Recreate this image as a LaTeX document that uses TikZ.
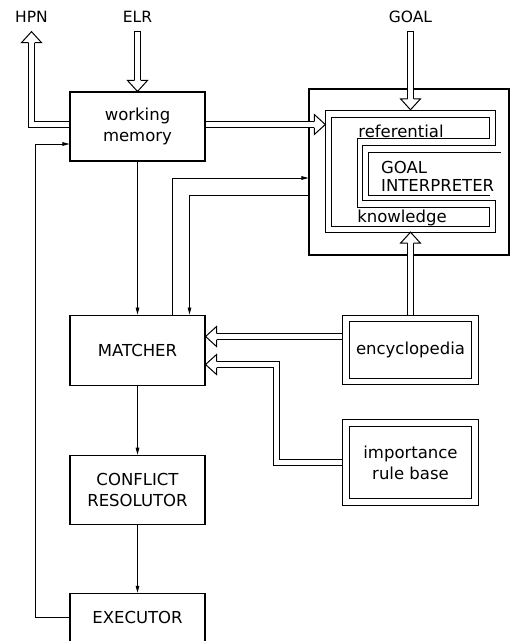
\documentclass[tikz,border=0pt]{standalone}
\usepackage{fontspec}
\setmainfont{DejaVu Sans}
\usetikzlibrary{arrows.meta, positioning, calc}

\tikzset{
    hhead/.pic={
        \fill[white] (-11,-10) -- (0,0) -- (-11,10) -- cycle;
        \draw[line width=1pt, line join=miter] (-11,-3) -- (-11,-10) -- (0,0) -- (-11,10) -- (-11,3);
    }
}

\begin{document}
\begin{tikzpicture}[
    x=1pt, y=-1pt,
    >={Triangle[length=7pt, width=3.6pt]},
    every node/.style={font=\fontsize{16.5}{21}\selectfont, inner sep=0pt},
    box/.style={rectangle, draw, line width=1.1pt, minimum width=135pt, minimum height=69pt, align=center},
    dbox/.style={rectangle, draw, line width=1.1pt, double, double distance=5.3pt, outer sep=3.75pt, minimum width=129pt, align=center},
    lbl/.style={font=\fontsize{15.5}{18}\selectfont, outer ysep=9pt},
    flow/.style={->, line width=0.8pt},
    hollow/.style={double, double distance=5pt, line width=1pt, line join=miter, shorten >=11pt},
    cshape/.style={line width=1pt, line join=miter}
]
\useasboundingbox (0,0) rectangle (511,641);

% ============================================================
% 1. PRODUCTION SYSTEM (left column)
% ============================================================
\node[lbl] (hpn)  at (31.5,17)  {HPN};
\node[lbl] (elr)  at (137.5,17) {ELR};
\node[lbl] (goal) at (410.5,17) {GOAL};

\node[box] (wm) at (137.5,126.5) {working\\memory};
\node[box, minimum height=70pt, below=153pt of wm] (matcher) {MATCHER};
\node[box, below=69pt of matcher] (resolver) {CONFLICT\\RESOLUTOR};
\node[box, minimum height=49pt, below=68pt of resolver] (executor) {EXECUTOR};

\draw[flow] (wm) -- (matcher);
\draw[flow] (matcher) -- (resolver);
\draw[flow] (resolver) -- (executor);
\draw[flow] (executor.west) -- ++(-34,0) |- ([yshift=-17.5pt]wm.west);

% ============================================================
% 2. GOAL INTERPRETER
% ============================================================
\node[box, minimum width=200pt, minimum height=166pt] (gi) at (409,172) {};
\node[minimum width=170pt, minimum height=122pt] (rk) at (410.5,171) {};

% referential knowledge band
\draw[cshape] (325,110) -- (495,110) -- (495,145) -- (362,145) -- (362,200) -- (495,200) -- (495,232) -- (325,232) -- cycle;
\draw[cshape] (331,117) -- (489,117) -- (489,138) -- (357,138) -- (357,207) -- (489,207) -- (489,226) -- (331,226) -- cycle;
\draw[cshape] (501,152) -| (368,195) -- (490,195);

\node (reftxt) at (401,131) {referential};
\node[anchor=west, align=left, font=\fontsize{16.5}{18}\selectfont] (gitxt) at (381,176.5) {GOAL\\INTERPRETER};
\node (kntxt) at (402,217.5) {knowledge};

\draw[flow] ([xshift=35pt]matcher.north) |- ([yshift=-6pt]gi.west);
\draw[flow] ([yshift=-23pt]gi.west) -| ([xshift=52pt]matcher.north);

% ============================================================
% 3. KNOWLEDGE BASES
% ============================================================
\node[dbox, minimum height=63pt] (enc) at (410.5,350) {encyclopedia};
\node[dbox, minimum height=79pt, below=34pt of enc] (imp) {importance\\rule base};

% ============================================================
% 4. HOLLOW ARROWS
% ============================================================
\draw[hollow] (elr.south) -- (wm.north);
\pic[rotate=-90] at (wm.north) {hhead};
\draw[line width=1pt] ([xshift=-3.5pt]elr.south) -- ([xshift=3.5pt]elr.south);

\draw[hollow] ([yshift=2pt]wm.west) -| (hpn.south);
\pic[rotate=90] at (hpn.south) {hhead};

\draw[hollow] (goal.south) -- (rk.north);
\pic[rotate=-90] at (rk.north) {hhead};
\draw[line width=1pt] ([xshift=-3.5pt]goal.south) -- ([xshift=3.5pt]goal.south);

\coordinate (wmout) at ([yshift=2pt]wm.east);
\draw[hollow] (wmout) -- (wmout -| rk.west) coordinate (tip1);
\pic at (tip1) {hhead};

\draw[hollow] (enc.north) -- (rk.south);
\pic[rotate=90] at (rk.south) {hhead};

\coordinate (encout) at ([yshift=13.5pt]enc.west);
\draw[hollow] (encout) -- (encout -| matcher.east) coordinate (tip3);
\pic[rotate=180] at (tip3) {hhead};

\coordinate (impin) at ([yshift=-14.4pt]matcher.east);
\draw[hollow] (imp.west) -- ++(-65.75,0) |- (impin);
\pic[rotate=180] at (impin) {hhead};

\end{tikzpicture}
\end{document}
